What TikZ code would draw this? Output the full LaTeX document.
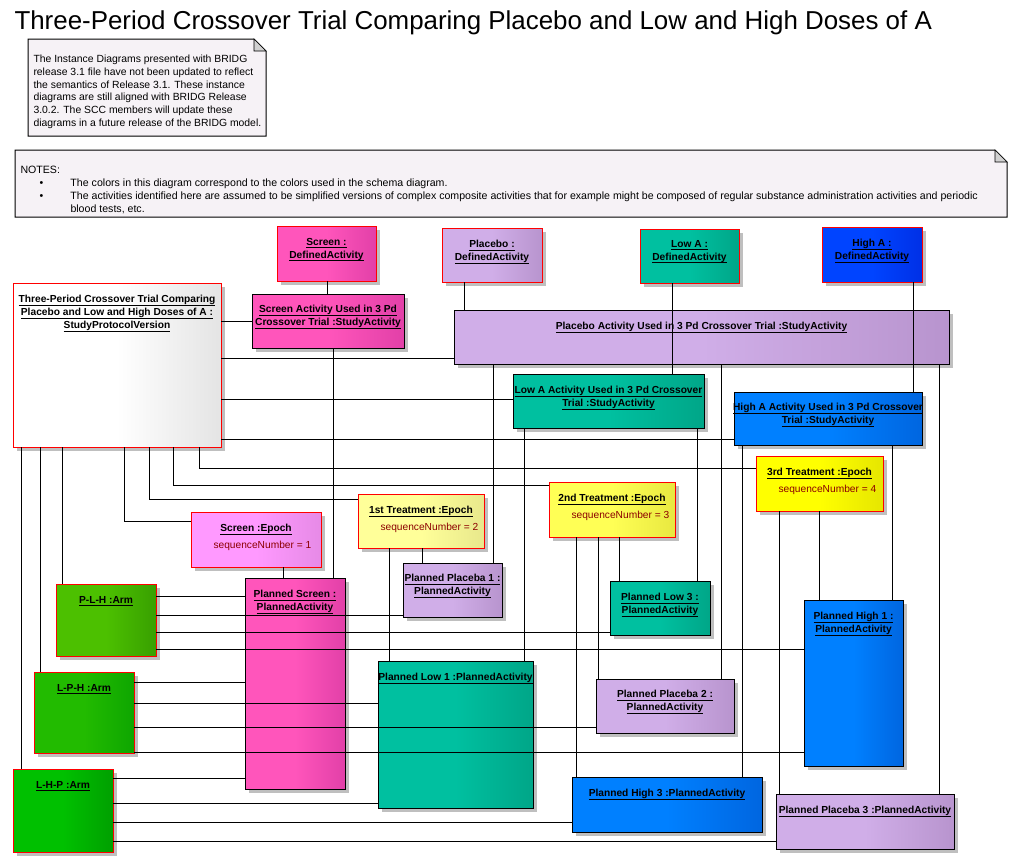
\documentclass[tikz,border=0pt]{standalone}
\usepackage{fontspec}
\setmainfont{Liberation Sans}
\usetikzlibrary{shadows}
\definecolor{pinkL}{HTML}{FF55BB}\definecolor{pinkR}{HTML}{E240A8}
\definecolor{lavL}{HTML}{D0AEE8}\definecolor{lavR}{HTML}{B894CE}
\definecolor{tealL}{HTML}{00C0A0}\definecolor{tealR}{HTML}{00A688}
\definecolor{bdaL}{HTML}{0044FF}\definecolor{bdaR}{HTML}{0030E6}
\definecolor{bL}{HTML}{0080FF}\definecolor{bR}{HTML}{0066E0}
\definecolor{y3L}{HTML}{FFFF00}\definecolor{y3R}{HTML}{E6E600}
\definecolor{y2L}{HTML}{FFFF55}\definecolor{y2R}{HTML}{E8E840}
\definecolor{y1L}{HTML}{FFFF99}\definecolor{y1R}{HTML}{E8E88C}
\definecolor{peL}{HTML}{FF99FF}\definecolor{peR}{HTML}{E68AE6}
\definecolor{g1L}{HTML}{4CC000}\definecolor{g1R}{HTML}{38A000}
\definecolor{g2L}{HTML}{22BB00}\definecolor{g2R}{HTML}{0EA600}
\definecolor{g3L}{HTML}{00C000}\definecolor{g3R}{HTML}{00A000}
\definecolor{spvR}{HTML}{E4E4E4}
\definecolor{notefill}{HTML}{F6F2F6}
\definecolor{attrc}{HTML}{8C0000}
\newcommand\ulin[1]{\leavevmode\setbox0=\hbox{#1}\dp0=0pt\vtop{\box0\kern1.8pt\hrule height0.9pt}}
\newcommand\mkbox[6]{\node[#2, minimum width={(#5-#3)*1pt}, minimum height={(#6-#4)*1pt}] (#1) at (#3,#4) {};}
\tikzset{
  ea/.style={line width=1pt, drop shadow={shadow xshift=4pt, shadow yshift=-4pt, fill=black!25, opacity=1}, inner sep=0pt, outer sep=0pt, anchor=north west},
  rb/.style={ea, draw=red},
  kb/.style={ea, draw=black},
  gr/.style 2 args={left color=#1, right color=#2, middle color=#1},
  pinkf/.style={gr={pinkL}{pinkR}},
  lavf/.style={gr={lavL}{lavR}},
  tealf/.style={gr={tealL}{tealR}},
  bdaf/.style={gr={bdaL}{bdaR}},
  bluef/.style={gr={bL}{bR}},
  lbl/.style={font=\bfseries\fontsize{10.2}{13}\selectfont, align=center, inner sep=0pt, anchor=north},
  attr/.style={font=\fontsize{10.2}{13}\selectfont, text=attrc, inner sep=0pt, anchor=west},
  notetxt/.style={align=left, inner sep=0pt, anchor=north west},
}
\begin{document}
\begin{tikzpicture}[x=1pt,y=-1pt,line width=1pt]
\fill[white] (0,0) rectangle (1017,863);
\useasboundingbox (0,0) rectangle (1017,863);
% title
\node[anchor=base west, inner sep=0pt, font=\fontsize{25.9}{30}\selectfont] (title) at (14,29.5) {Three-Period Crossover Trial Comparing Placebo and Low and High Doses of A};
% notes
\filldraw[fill=notefill, draw=black] (28,39) -- (254,39) -- (266,51) -- (266,136) -- (28,136) -- cycle;
\filldraw[fill=black!18, draw=black, line width=0.6pt] (254,39) -- (254,51) -- (266,51) -- cycle;
\node[notetxt, font=\fontsize{10.4}{12.8}\selectfont] (note1) at (33,54.5) {The Instance Diagrams presented with BRIDG\\release 3.1 file have not been updated to reflect\\the semantics of Release 3.1. These instance\\diagrams are still aligned with BRIDG Release\\3.0.2. The SCC members will update these\\diagrams in a future release of the BRIDG model.};
\filldraw[fill=notefill, draw=black] (15,150) -- (995,150) -- (1007,162) -- (1007,217) -- (15,217) -- cycle;
\filldraw[fill=black!18, draw=black, line width=0.6pt] (995,150) -- (995,162) -- (1007,162) -- cycle;
\node[notetxt, font=\fontsize{10.6}{13}\selectfont] (note2) at (20,165.5) {NOTES:\\
\hbox to 50pt{\hskip19pt\textbullet\hss}The colors in this diagram correspond to the colors used in the schema diagram.\\
\hbox to 50pt{\hskip19pt\textbullet\hss}The activities identified here are assumed to be simplified versions of complex composite activities that for example might be composed of regular substance administration activities and periodic\\
\hbox to 50pt{\hss}blood tests, etc.};
% boxes
\mkbox{spv}{rb,gr={white}{spvR}}{13}{283}{221}{447}
\mkbox{scrDA}{rb,pinkf}{277}{226}{376}{281}
\mkbox{scrSA}{kb,pinkf}{252}{294}{404}{348}
\mkbox{plDA}{rb,lavf}{442}{228}{542}{282}
\mkbox{plSA}{kb,lavf}{454}{310}{949}{364}
\mkbox{loDA}{rb,tealf}{640}{229}{739}{283}
\mkbox{loSA}{kb,tealf}{513}{374}{704}{428}
\mkbox{hiDA}{rb,bdaf}{822}{227}{922}{282}
\mkbox{hiSA}{kb,bluef}{734}{392}{922}{445}
\mkbox{ep3}{rb,gr={y3L}{y3R}}{756}{456}{883}{511}
\mkbox{ep2}{rb,gr={y2L}{y2R}}{549}{482}{675}{537}
\mkbox{ep1}{rb,gr={y1L}{y1R}}{358}{494}{484}{548}
\mkbox{ep0}{rb,gr={peL}{peR}}{191}{512}{321}{567}
\mkbox{pScr}{kb,pinkf}{245}{578}{345}{789}
\mkbox{pPl1}{kb,lavf}{403}{563}{502}{617}
\mkbox{pLo3}{kb,tealf}{610}{581}{710}{635}
\mkbox{pHi1}{kb,bluef}{804}{600}{903}{766}
\mkbox{aPLH}{rb,gr={g1L}{g1R}}{56}{584}{156}{656}
\mkbox{aLPH}{rb,gr={g2L}{g2R}}{34}{672}{134}{753}
\mkbox{aLHP}{rb,gr={g3L}{g3R}}{13}{769}{113}{852}
\mkbox{pLo1}{kb,tealf}{378}{661}{533}{808}
\mkbox{pPl2}{kb,lavf}{596}{679}{734}{733}
\mkbox{pHi3}{kb,bluef}{572}{777}{762}{832}
\mkbox{pPl3}{kb,lavf}{776}{794}{954}{849}
% labels
\node[lbl] (spvL) at (117,295) {\ulin{Three-Period Crossover Trial Comparing}\\\ulin{Placebo and Low and High Doses of A :}\\\ulin{StudyProtocolVersion}};
\node[lbl] (scrDAL) at (326.5,238) {\ulin{Screen :}\\\ulin{DefinedActivity}};
\node[lbl] (scrSAL) at (328,305) {\ulin{Screen Activity Used in 3 Pd}\\\ulin{Crossover Trial :StudyActivity}};
\node[lbl] (plDAL) at (492,240) {\ulin{Placebo :}\\\ulin{DefinedActivity}};
\node[lbl] (plSAL) at (701.5,322) {\ulin{Placebo Activity Used in 3 Pd Crossover Trial :StudyActivity}};
\node[lbl] (loDAL) at (689.5,240) {\ulin{Low A :}\\\ulin{DefinedActivity}};
\node[lbl] (hiDAL) at (872,239) {\ulin{High A :}\\\ulin{DefinedActivity}};
\node[lbl] (loSAL) at (608.5,386) {\ulin{Low A Activity Used in 3 Pd Crossover}\\\ulin{Trial :StudyActivity}};
\node[lbl] (hiSAL) at (828,403) {\ulin{High A Activity Used in 3 Pd Crossover}\\\ulin{Trial :StudyActivity}};
\node[lbl] (ep3T) at (819.5,468) {\ulin{3rd Treatment :Epoch}};
\node[attr] (ep3A) at (778,490) {sequenceNumber = 4};
\node[lbl] (ep2T) at (612,494) {\ulin{2nd Treatment :Epoch}};
\node[attr] (ep2A) at (571,516) {sequenceNumber = 3};
\node[lbl] (ep1T) at (421,506) {\ulin{1st Treatment :Epoch}};
\node[attr] (ep1A) at (380,528) {sequenceNumber = 2};
\node[lbl] (ep0T) at (256,524) {\ulin{Screen :Epoch}};
\node[attr] (ep0A) at (213,546) {sequenceNumber = 1};
\node[lbl] (pScrL) at (295,590) {\ulin{Planned Screen :}\\\ulin{PlannedActivity}};
\node[lbl] (pPl1L) at (452.5,574) {\ulin{Planned Placeba 1 :}\\\ulin{PlannedActivity}};
\node[lbl] (pLo3L) at (660,593) {\ulin{Planned Low 3 :}\\\ulin{PlannedActivity}};
\node[lbl] (pHi1L) at (853.5,612) {\ulin{Planned High 1 :}\\\ulin{PlannedActivity}};
\node[lbl] (aPLHL) at (106,596) {\ulin{P-L-H :Arm}};
\node[lbl] (aLPHL) at (84,684) {\ulin{L-P-H :Arm}};
\node[lbl] (aLHPL) at (63,781) {\ulin{L-H-P :Arm}};
\node[lbl] (pLo1L) at (455.5,673) {\ulin{Planned Low 1 :PlannedActivity}};
\node[lbl] (pPl2L) at (665,690) {\ulin{Planned Placeba 2 :}\\\ulin{PlannedActivity}};
\node[lbl] (pHi3L) at (667,789) {\ulin{Planned High 3 :PlannedActivity}};
\node[lbl] (pPl3L) at (865,806) {\ulin{Planned Placeba 3 :PlannedActivity}};
% vertical connectors
\draw (scrDA.south -| 327,0) -- (scrSA.north -| 327,0);
\draw (plDA.south -| 464,0) -- (plSA.north -| 464,0);
\draw (loDA.south -| 672,0) -- (loSA.north -| 672,0);
\draw (hiDA.south -| 913,0) -- (hiSA.north -| 913,0);
\draw (scrSA.south -| 333,0) -- (pScr.north -| 333,0);
\draw (ep0.south -| 283,0) -- (pScr.north -| 283,0);
\draw (plSA.south -| 493,0) -- (pPl1.north -| 493,0);
\draw (plSA.south -| 721,0) -- (pPl2.north -| 721,0);
\draw (plSA.south -| 939,0) -- (pPl3.north -| 939,0);
\draw (loSA.south -| 524,0) -- (pLo1.north -| 524,0);
\draw (loSA.south -| 697,0) -- (pLo3.north -| 697,0);
\draw (hiSA.south -| 742,0) -- (pHi3.north -| 742,0);
\draw (hiSA.south -| 892,0) -- (pHi1.north -| 892,0);
\draw (ep1.south -| 422,0) -- (pPl1.north -| 422,0);
\draw (ep1.south -| 389,0) -- (pLo1.north -| 389,0);
\draw (ep2.south -| 619,0) -- (pLo3.north -| 619,0);
\draw (ep2.south -| 598,0) -- (pPl2.north -| 598,0);
\draw (ep2.south -| 576,0) -- (pHi3.north -| 576,0);
\draw (ep3.south -| 819,0) -- (pHi1.north -| 819,0);
\draw (ep3.south -| 779,0) -- (pPl3.north -| 779,0);
\draw (spv.south -| 62,0) -- (aPLH.north -| 62,0);
\draw (spv.south -| 40,0) -- (aLPH.north -| 40,0);
\draw (spv.south -| 21,0) -- (aLHP.north -| 21,0);
% horizontal connectors from protocol
\draw (spv.east |- 0,321) -- (scrSA.west |- 0,321);
\draw (spv.east |- 0,358) -- (plSA.west |- 0,358);
\draw (spv.east |- 0,399) -- (loSA.west |- 0,399);
\draw (spv.east |- 0,439) -- (hiSA.west |- 0,439);
\draw (spv.south -| 199,0) |- (ep3.west |- 0,468);
\draw (spv.south -| 173,0) |- (ep2.west |- 0,485);
\draw (spv.south -| 149,0) |- (ep1.west |- 0,499);
\draw (spv.south -| 124,0) |- (ep0.west |- 0,521);
% arms
\draw (aPLH.east |- 0,596) -- (pScr.west |- 0,596);
\draw (aPLH.east |- 0,615) -- (pPl1.west |- 0,615);
\draw (aPLH.east |- 0,632) -- (pLo3.west |- 0,632);
\draw (aPLH.east |- 0,649) -- (pHi1.west |- 0,649);
\draw (aLPH.east |- 0,682) -- (pScr.west |- 0,682);
\draw (aLPH.east |- 0,703) -- (pLo1.west |- 0,703);
\draw (aLPH.east |- 0,727) -- (pPl2.west |- 0,727);
\draw (aLPH.east |- 0,752) -- (pHi1.west |- 0,752);
\draw (aLHP.east |- 0,778) -- (pScr.west |- 0,778);
\draw (aLHP.east |- 0,803) -- (pLo1.west |- 0,803);
\draw (aLHP.east |- 0,822) -- (pHi3.west |- 0,822);
\draw (aLHP.east |- 0,841) -- (pPl3.west |- 0,841);
\end{tikzpicture}
\end{document}
